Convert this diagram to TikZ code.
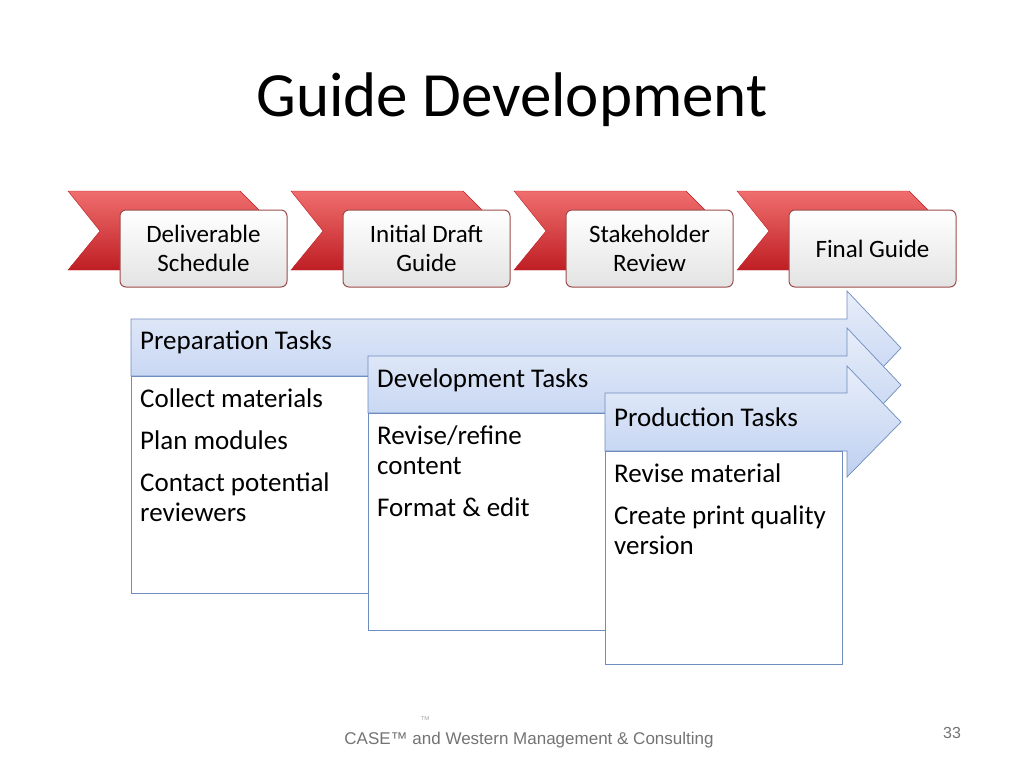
\documentclass[tikz,border=0pt]{standalone}
\usepackage{fontspec}
\setmainfont{Carlito}
\newfontfamily\arialf{Liberation Sans}
\definecolor{tb1}{RGB}{232,238,250}
\definecolor{tb2}{RGB}{190,208,240}
\definecolor{tbd}{RGB}{110,140,190}
\definecolor{rd1}{RGB}{240,110,110}
\definecolor{rd2}{RGB}{190,30,35}
\begin{document}
\begin{tikzpicture}[x=1pt,y=-1pt,
  chev/.style={draw=rd2,top color=rd1,bottom color=rd2},
  mbox/.style={draw=red!45!black!70,line width=1pt,rounded corners=6pt,top color=white,bottom color=gray!22,minimum width=167pt,minimum height=77pt,align=center,font=\fontsize{25}{29}\selectfont},
  tarrow/.style={draw=tbd,top color=tb1,bottom color=tb2,line width=0.7pt},
  tbox/.style={draw=tbd,fill=white,line width=0.7pt},
  ttext/.style={anchor=west,inner xsep=9pt,font=\fontsize{27}{31}\selectfont},
  ltext/.style={anchor=north west,inner xsep=9pt,align=left,font=\fontsize{27}{30}\selectfont}]
\useasboundingbox (0,0) rectangle (1024,768);
\node (title) at (512,100) {\fontsize{63}{72}\selectfont Guide Development};
\foreach \i/\t in {0/{Deliverable\\Schedule},1/{Initial Draft\\Guide},2/{Stakeholder\\Review},3/{Final Guide}}{
  \draw[chev] ({68+223*\i},191) -- ({240+223*\i},191) -- ({280+223*\i},231) -- ({240+223*\i},270) -- ({68+223*\i},270) -- ({100+223*\i},231) -- cycle;
  \node[mbox] (b\i) at ({203.5+223*\i},248.5) {\t};
}
% Preparation
\draw[tarrow] (131,319) -- (847,319) -- (847,291) -- (901,348) -- (847,405) -- (847,376) -- (131,376) -- cycle;
\node[ttext] (pt) at (131,342) {Preparation Tasks};
\draw[tbox] (131,376) rectangle (368,593);
\node[ltext] (pl) at (131,385) {Collect materials\\[12pt]Plan modules\\[12pt]Contact potential\\reviewers};
% Development
\draw[tarrow] (368,356) -- (847,356) -- (847,328) -- (901,385) -- (847,442) -- (847,413) -- (368,413) -- cycle;
\node[ttext] (dt) at (368,380) {Development Tasks};
\draw[tbox] (368,413) rectangle (605,630);
\node[ltext] (dl) at (368,422) {Revise/refine\\content\\[12pt]Format \& edit};
% Production
\draw[tarrow] (605,393) -- (847,393) -- (847,366) -- (901,422) -- (847,477) -- (847,451) -- (605,451) -- cycle;
\node[ttext] (prt) at (605,417) {Production Tasks};
\draw[tbox] (605,451) rectangle (842,664);
\node[ltext] (prl) at (605,460) {Revise material\\[12pt]Create print quality\\version};
% footer
\node[text=gray!60,font=\arialf\fontsize{10}{11}\selectfont] (tm) at (425,720) {™};
\node[text=gray!90!black,font=\arialf\fontsize{17}{20}\selectfont] (foot) at (529,740) {CASE™ and Western Management \& Consulting};
\node[text=gray!90!black,font=\arialf\fontsize{16}{18}\selectfont] (pg) at (952,733) {33};
\end{tikzpicture}
\end{document}
